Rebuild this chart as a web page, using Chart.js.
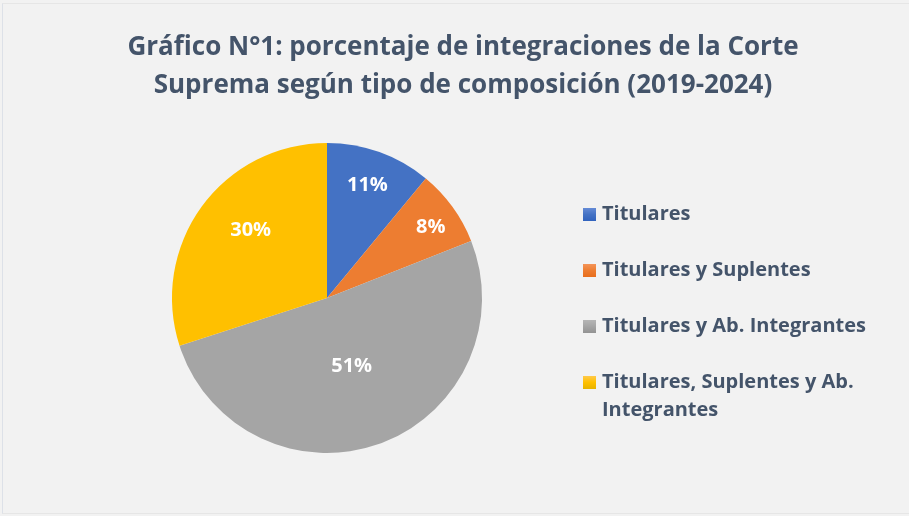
<!DOCTYPE html>
<html>
<head>
<meta charset="utf-8">
<script src="https://cdn.jsdelivr.net/npm/chart.js@4.4.1/dist/chart.umd.min.js"></script>
<style>
  html, body { margin: 0; padding: 0; background: #f2f2f2; }
  #wrap {
    position: absolute; left: 2px; top: 3px; width: 907px; height: 511px;
    border-left: 1px solid #dde1e8; border-top: 1px solid #e6e6e6; border-bottom: 1px solid #e6e6e6;
    box-sizing: border-box;
  }
  canvas { display: block; }
</style>
</head>
<body>
<div id="wrap"><canvas id="pieChart" width="906" height="510"></canvas></div>
<script>
// data
const titleLines = ["Gráfico N°1: porcentaje de integraciones de la Corte", "Suprema según tipo de composición (2019-2024)"];
const categories = ["Titulares", "Titulares y Suplentes", "Titulares y Ab. Integrantes", "Titulares, Suplentes y Ab. Integrantes"];
const legendLines = [["Titulares"], ["Titulares y Suplentes"], ["Titulares y Ab. Integrantes"], ["Titulares, Suplentes y Ab.", "Integrantes"]];
const percentages = [11, 8, 51, 30];

// light / base / dark colours of each slice's vertical gradient
const lightColors = ["#658bd6", "#f49459", "#b6b6b6", "#ffc94a"];
const baseColors = ["#4472c4", "#ed7d31", "#a5a5a5", "#ffc000"];
const darkColors = ["#3163be", "#e86d1c", "#939393", "#e6b300"];

const textColor = "#44546a";
const fontFamily = "'Open Sans', Lato, sans-serif";

// vertical extent of one slice, so the gradient runs over the slice itself
function sliceYRange(arc) {
    const ys = [arc.y, arc.y + Math.sin(arc.startAngle) * arc.outerRadius, arc.y + Math.sin(arc.endAngle) * arc.outerRadius];
    [Math.PI / 2, -Math.PI / 2, 3 * Math.PI / 2].forEach(a => {
        if (a > arc.startAngle && a < arc.endAngle) ys.push(arc.y + Math.sin(a) * arc.outerRadius);
    });
    return [Math.min(...ys), Math.max(...ys)];
}

function sliceGradient(context) {
    const chart = context.chart;
    const i = context.dataIndex;
    const arc = chart.getDatasetMeta(0).data[i];
    if (!arc || !arc.outerRadius) return baseColors[i];
    const [y0, y1] = sliceYRange(arc);
    const g = chart.ctx.createLinearGradient(0, y0, 0, y1);
    g.addColorStop(0, lightColors[i]);
    g.addColorStop(0.5, baseColors[i]);
    g.addColorStop(1, darkColors[i]);
    return g;
}

// percentage labels inside the slices
const sliceLabels = {
    id: "sliceLabels",
    afterDatasetsDraw(chart, args, opts) {
        const ctx = chart.ctx;
        const meta = chart.getDatasetMeta(0);
        ctx.save();
        ctx.fillStyle = "#ffffff";
        ctx.font = "bold 20px " + fontFamily;
        ctx.textAlign = "center";
        ctx.textBaseline = "middle";
        meta.data.forEach((arc, i) => {
            const mid = (arc.startAngle + arc.endAngle) / 2 + (opts.angleShift[i] || 0);
            const r = arc.outerRadius * opts.radiusFraction[i];
            ctx.fillText(chart.data.datasets[0].data[i] + "%", arc.x + Math.cos(mid) * r, arc.y + Math.sin(mid) * r);
        });
        ctx.restore();
    }
};

// legend as a layout box on the right so the title keeps the full width
const sideLegend = {
    id: "sideLegend",
    beforeInit(chart) {
        const opts = chart.options.plugins.sideLegend;
        const box = {
            position: "right",
            weight: 500,
            fullSize: false,
            options: {},
            isHorizontal() { return false; },
            update(maxWidth, maxHeight) {
                this.width = opts.width;
                this.height = maxHeight;
            },
            draw() {
                const ctx = chart.ctx;
                ctx.save();
                ctx.font = "bold " + opts.fontSize + "px " + fontFamily;
                ctx.textBaseline = "middle";
                ctx.textAlign = "left";
                legendLines.forEach((lines, i) => {
                    const y = opts.top + i * opts.step;
                    const x = this.left + opts.offsetX;
                    const g = ctx.createLinearGradient(0, y - 6, 0, y + 7);
                    g.addColorStop(0, lightColors[i]);
                    g.addColorStop(0.5, baseColors[i]);
                    g.addColorStop(1, darkColors[i]);
                    ctx.fillStyle = g;
                    ctx.fillRect(x, y - 6, 13, 13);
                    ctx.fillStyle = textColor;
                    lines.forEach((line, j) => {
                        ctx.fillText(line, x + 19, y + j * opts.lineGap);
                    });
                });
                ctx.restore();
            }
        };
        Chart.layouts.addBox(chart, box);
    }
};

const ctx = document.getElementById("pieChart").getContext("2d");
const pieChart = new Chart(ctx, {
    type: "pie",
    data: {
        labels: categories,
        datasets: [{
            data: percentages,
            backgroundColor: sliceGradient,
            borderWidth: 0,
            hoverOffset: 0
        }]
    },
    options: {
        responsive: false,
        animation: false,
        layout: {
            padding: { left: 14, right: 0, top: 0, bottom: 61 }
        },
        plugins: {
            title: {
                display: true,
                text: titleLines,
                color: textColor,
                font: { family: fontFamily, size: 26, weight: "bold", lineHeight: 1.46 },
                padding: { top: 25, bottom: 38 }
            },
            legend: { display: false },
            tooltip: { enabled: false },
            sliceLabels: {
                radiusFraction: [0.77, 0.81, 0.47, 0.66],
                angleShift: [0, 0.03, 0, 0.1]
            },
            sideLegend: { width: 272, offsetX: -54, top: 210, step: 56, lineGap: 28, fontSize: 20 }
        }
    },
    plugins: [sliceLabels, sideLegend]
});
</script>
</body>
</html>
